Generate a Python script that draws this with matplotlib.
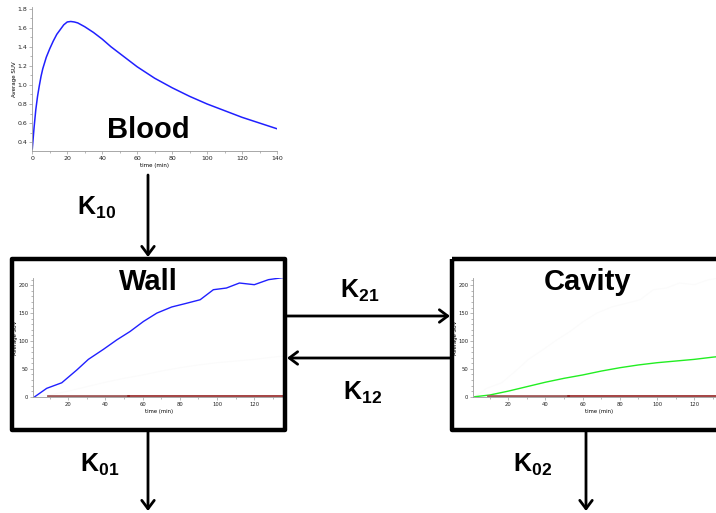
import matplotlib
matplotlib.use("Agg")
import matplotlib.pyplot as plt
from matplotlib.patches import Rectangle
from matplotlib.ticker import MultipleLocator

plt.rcParams['mathtext.fontset'] = 'custom'
plt.rcParams['mathtext.rm'] = 'Liberation Sans'
plt.rcParams['mathtext.bf'] = 'Liberation Sans:bold'

# ---- data ----
blood_time = [0, 1, 2, 3, 4, 5, 6, 8, 10, 12, 14, 16, 18, 20, 22, 24, 26, 28, 30, 35,
              40, 45, 50, 55, 60, 65, 70, 75, 80, 90, 100, 110, 120, 130, 140]
blood_suv = [0.33, 0.55, 0.74, 0.88, 0.99, 1.09, 1.17, 1.29, 1.38, 1.46, 1.53, 1.58,
             1.63, 1.66, 1.665, 1.66, 1.65, 1.63, 1.61, 1.55, 1.48, 1.40, 1.33, 1.26,
             1.19, 1.13, 1.07, 1.02, 0.97, 0.88, 0.80, 0.73, 0.66, 0.60, 0.54]

wall_time = [2, 8.4, 16.5, 24.6, 30.8, 38.9, 46.1, 53.2, 60.4, 67.6, 75.6, 82.8, 90.9,
             98, 105, 112, 120, 127.6, 136]
wall_suv = [0, 15, 25, 48, 67, 85, 102, 117, 135, 150, 161, 167, 174, 192, 195, 204,
            201, 210, 214]

cavity_time = [2, 10, 20, 30, 40, 50, 60, 70, 80, 90, 100, 110, 120, 130, 136]
cavity_suv = [0, 3, 10, 18, 26, 33, 39, 46, 52, 57, 61, 64, 67, 71, 73]

resid_time_a = [9, 20, 30, 40, 52]
resid_suv_a = [2, 2, 2, 2, 2]
resid_time_b = [52, 70, 90, 110, 136]
resid_suv_b = [1, 1, 1, 1, 1]

blood_xticks = [0, 20, 40, 60, 80, 100, 120, 140]
blood_yticks = [0.4, 0.6, 0.8, 1.0, 1.2, 1.4, 1.6, 1.8]
tissue_xticks = [20, 40, 60, 80, 100, 120]
tissue_yticks = [0, 50, 100, 150, 200]

W, H = 716, 513
fig = plt.figure(figsize=(W / 100, H / 100), dpi=100)


def ax_px(left, right, top, bottom):
    return fig.add_axes([left / W, 1 - bottom / H, (right - left) / W, (bottom - top) / H])


def style(ax, fs):
    for s in ['top', 'right']:
        ax.spines[s].set_visible(False)
    for s in ['left', 'bottom']:
        ax.spines[s].set_color('#9a9a9a')
        ax.spines[s].set_linewidth(0.6)
    ax.tick_params(which='both', direction='out', labelsize=fs, colors='#9a9a9a',
                   labelcolor='#222222', width=0.5, pad=1.5)
    ax.tick_params(which='major', length=2)
    ax.tick_params(which='minor', length=1.2)
    ax.patch.set_alpha(0)


# Blood
axb = ax_px(32.3, 277, 6.7, 150.7)
axb.plot(blood_time, blood_suv, color='#2020ff', lw=1.1)
axb.set_xlim(0, 140)
axb.set_ylim(0.31, 1.82)
axb.set_xticks(blood_xticks)
axb.set_yticks(blood_yticks)
axb.set_yticklabels([f"{v:.1f}" for v in blood_yticks])
axb.xaxis.set_minor_locator(MultipleLocator(10))
axb.yaxis.set_minor_locator(MultipleLocator(0.1))
style(axb, 4.5)
axb.set_xlabel('time (min)', fontsize=4, labelpad=2)
axb.set_ylabel('Average SUV', fontsize=4)
axb.yaxis.set_label_coords(-0.062, 0.5)

# Wall
axw = ax_px(33.3, 285, 278, 396.7)
axw.plot(cavity_time, cavity_suv, color='#fbfbfb', lw=0.8)
axw.plot(wall_time, wall_suv, color='#2020ff', lw=1.0)
axw.plot(resid_time_a, resid_suv_a, color='#a05a5a', lw=2.0)
axw.plot(resid_time_b, resid_suv_b, color='#8b1010', lw=1.1)
# Cavity
axc = ax_px(473.3, 725, 278, 396.7)
axc.plot(wall_time, wall_suv, color='#fbfbfb', lw=0.8)
axc.plot(cavity_time, cavity_suv, color='#22ee22', lw=1.0)
axc.plot(resid_time_a, resid_suv_a, color='#a05a5a', lw=2.0)
axc.plot(resid_time_b, resid_suv_b, color='#8b1010', lw=1.1)
for ax in (axw, axc):
    ax.set_xlim(1.2, 136.5)
    ax.set_ylim(0, 213)
    ax.set_xticks(tissue_xticks)
    ax.set_yticks(tissue_yticks)
    ax.xaxis.set_minor_locator(MultipleLocator(10))
    ax.yaxis.set_minor_locator(MultipleLocator(10))
    style(ax, 3.8)
    ax.set_xlabel('time (min)', fontsize=3.8, labelpad=2)
    ax.set_ylabel('Average SUV', fontsize=3.8)
    ax.yaxis.set_label_coords(-0.062, 0.5)

# overlay for diagram
ov = fig.add_axes([0, 0, 1, 1], zorder=10)
ov.set_xlim(0, W)
ov.set_ylim(H, 0)
ov.axis('off')
ov.patch.set_alpha(0)

ov.add_patch(Rectangle((12, 259), 273, 171, fill=False, lw=3.2, ec='black', joinstyle='round'))
ov.add_patch(Rectangle((452, 259), 300, 171, fill=False, lw=3.2, ec='black', joinstyle='round'))

aprops = dict(arrowstyle='->,head_length=0.6,head_width=0.45', lw=2.0, color='black',
              shrinkA=0, shrinkB=0)
for start, tip in [((148, 175), (148, 257)),
                   ((286, 316), (450, 316)),
                   ((451, 358), (287, 358)),
                   ((148, 432), (148, 511)),
                   ((586, 432), (586, 511))]:
    ov.annotate('', xy=tip, xytext=start, arrowprops=aprops)

tfont = dict(family='Liberation Sans', weight='bold', fontsize=21, va='baseline', ha='center')
ov.text(148, 138, 'Blood', **tfont)
ov.text(148, 290.5, 'Wall', **tfont)
ov.text(588, 290.5, 'Cavity', **tfont)

kfont = dict(fontsize=18, va='baseline', ha='left')
ov.text(77, 215, r'$\mathbf{K_{10}}$', **kfont)
ov.text(340, 298, r'$\mathbf{K_{21}}$', **kfont)
ov.text(343, 400, r'$\mathbf{K_{12}}$', **kfont)
ov.text(80, 472, r'$\mathbf{K_{01}}$', **kfont)
ov.text(513, 472, r'$\mathbf{K_{02}}$', **kfont)

fig.savefig('out.png', dpi=100)
